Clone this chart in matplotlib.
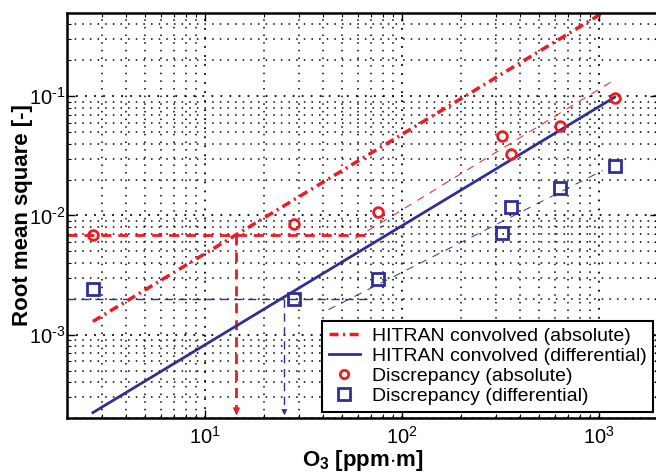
import matplotlib
matplotlib.use('Agg')
import matplotlib.pyplot as plt
from matplotlib.ticker import LogLocator, NullFormatter, FuncFormatter
import numpy as np

plt.rcParams['font.family'] = ['Liberation Sans', 'DejaVu Sans']
plt.rcParams['mathtext.fontset'] = 'custom'
plt.rcParams['mathtext.rm'] = 'Liberation Sans'
plt.rcParams['mathtext.bf'] = 'Liberation Sans:bold'

RED = '#ED1C24'
BLUE = '#2E3192'

# measurement points (O3 column, ppm*m)
o3 = [2.71, 28.5, 76, 324, 360, 638, 1205]
disc_abs = [6.8e-3, 8.4e-3, 0.0106, 0.046, 0.0327, 0.0561, 0.096]
disc_diff = [2.43e-3, 2.0e-3, 2.94e-3, 7.06e-3, 0.0117, 0.0171, 0.0262]

# HITRAN convolved lines (end points)
hitran_x = [2.71, 1205]
hitran_abs = [1.29e-3, 0.574]
hitran_diff = [2.22e-4, 0.098]

# thin fit lines through the discrepancies
fit_abs_x = [58, 1219]
fit_abs_y = [6.4e-3, 0.139]
fit_diff_x = [42.5, 1048]
fit_diff_y = [1.62e-3, 0.0238]

# detection limits
lim_abs_y, lim_abs_x, lim_abs_end = 6.8e-3, 14.5, 68
lim_diff_y, lim_diff_x, lim_diff_end = 2.0e-3, 25.4, 72

xlim = (2, 2000)
ylim = (2e-4, 0.5)


def pow10(v, pos):
    # matlab-like labels, short hyphen for negative exponents
    e = int(round(np.log10(v)))
    if e < 0:
        return '$10^{\\text{-}%d}$' % -e
    return '$10^{%d}$' % e


fig = plt.figure(figsize=(6.56, 4.75), dpi=100)
ax = fig.add_axes([0.102, 0.12, 0.901, 0.853])
ax.set_xscale('log')
ax.set_yscale('log')
ax.set_xlim(*xlim)
ax.set_ylim(*ylim)

# grid, matlab style
ax.xaxis.set_minor_locator(LogLocator(base=10, subs=range(2, 10), numticks=20))
ax.yaxis.set_minor_locator(LogLocator(base=10, subs=range(2, 10), numticks=20))
ax.xaxis.set_major_formatter(FuncFormatter(pow10))
ax.yaxis.set_major_formatter(FuncFormatter(pow10))
ax.xaxis.set_minor_formatter(NullFormatter())
ax.yaxis.set_minor_formatter(NullFormatter())
ax.grid(True, which='major', color='k', lw=1.3, linestyle=(0, (1, 4)))
ax.grid(True, which='minor', color='k', lw=1.1, linestyle=(0, (1, 4)))
ax.set_axisbelow(True)

# detection limit guides
ax.plot([xlim[0], lim_abs_end], [lim_abs_y, lim_abs_y], color=RED, lw=2,
        dashes=(3.6, 2.5))
ax.plot([lim_abs_x, lim_abs_x], [lim_abs_y, ylim[0] * 1.1], color=RED, lw=2,
        dashes=(3.6, 2.5))
ax.plot([xlim[0], lim_diff_end], [lim_diff_y, lim_diff_y], color=BLUE, lw=1,
        dashes=(6, 4))
ax.plot([lim_diff_x, lim_diff_x], [lim_diff_y, ylim[0] * 1.1], color=BLUE, lw=1,
        dashes=(6, 4))
ax.annotate('', xy=(lim_abs_x, ylim[0]), xytext=(lim_abs_x, ylim[0] * 1.12),
            arrowprops=dict(arrowstyle='-|>', color=RED, lw=0, mutation_scale=14))
ax.annotate('', xy=(lim_diff_x, ylim[0]), xytext=(lim_diff_x, ylim[0] * 1.12),
            arrowprops=dict(arrowstyle='-|>', color=BLUE, lw=0, mutation_scale=11))

# thin fits
ax.plot(fit_abs_x, fit_abs_y, color=RED, lw=0.7, dashes=(8, 7))
ax.plot(fit_diff_x, fit_diff_y, color=BLUE, lw=0.7, dashes=(8, 7))

ax.plot(hitran_x, hitran_abs, color=RED, lw=2.5, dashes=(2.6, 1.3, 0.6, 1.3),
        label='HITRAN convolved (absolute)')
ax.plot(hitran_x, hitran_diff, color=BLUE, lw=2, label='HITRAN convolved (differential)')
ax.plot(o3, disc_abs, 'o', mfc='none', mec=RED, mew=2, ms=7,
        label='Discrepancy (absolute)')
ax.plot(o3, disc_diff, 's', mfc='none', mec=BLUE, mew=2, ms=8.5,
        label='Discrepancy (differential)')

ax.tick_params(which='both', direction='in', top=True, right=True, labelsize=14.5)
ax.tick_params(which='major', length=6, width=1)
ax.tick_params(which='minor', length=3, width=0.8)
ax.tick_params(axis='x', pad=6)
ax.tick_params(axis='y', pad=1)
for s in ax.spines.values():
    s.set_linewidth(1.8)

ax.set_xlabel('O$_\\mathbf{3}$ [ppm$\\cdot$m]', fontsize=16, fontweight='bold')
ax.set_ylabel('Root mean square [-]', fontsize=16, fontweight='bold')
ax.xaxis.set_label_coords(0.5, -0.075)
ax.yaxis.set_label_coords(-0.058, 0.5)

leg = ax.legend(loc='lower right', bbox_to_anchor=(0.992, 0.015), borderaxespad=0,
                fontsize=14.0, frameon=True, fancybox=False, framealpha=1,
                edgecolor='k', labelspacing=0.12, handlelength=1.6,
                handletextpad=0.6, borderpad=0.35)
leg.get_frame().set_linewidth(1.5)
leg.legend_handles[2].set_markersize(6)
leg.legend_handles[3].set_markersize(8.5)

fig.savefig('out.png', dpi=100)
